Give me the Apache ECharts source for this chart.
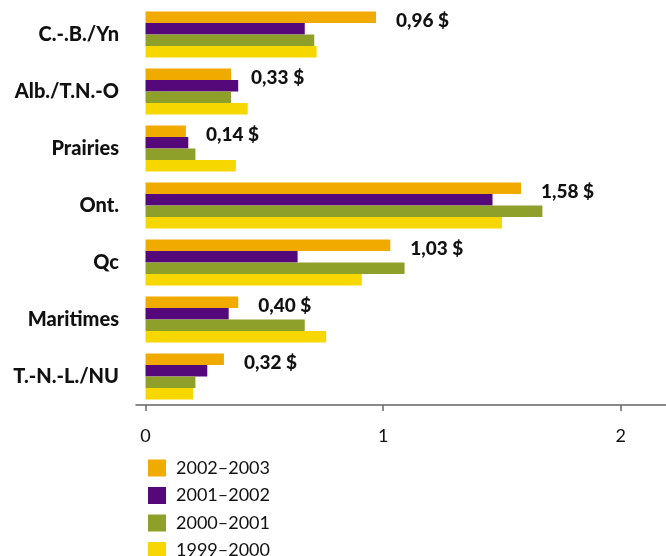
<!DOCTYPE html>
<html lang="fr">
<head>
    <meta charset="UTF-8">
    <title>Barres</title>
    <script src="https://cdn.jsdelivr.net/npm/echarts@6/dist/echarts.min.js"></script>
</head>
<style>
html,body{margin: 0;padding: 0;background: #fff}
#chartBox{width: 666px;height: 556px}
</style>
<body>
    <div id="chartBox"></div>
</body>
<script>
// données
const regions = ['C.-.B./Yn', 'Alb./T.N.-O', 'Prairies', 'Ont.', 'Qc', 'Maritimes', 'T.-N.-L./NU'];
const years = ['2002–2003', '2001–2002', '2000–2001', '1999–2000'];
const v2002 = [0.97, 0.36, 0.17, 1.58, 1.03, 0.39, 0.33];
const v2001 = [0.67, 0.39, 0.18, 1.46, 0.64, 0.35, 0.26];
const v2000 = [0.71, 0.36, 0.21, 1.67, 1.09, 0.67, 0.21];
const v1999 = [0.72, 0.43, 0.38, 1.50, 0.91, 0.76, 0.20];
const valueLabels = ['0,96 $', '0,33 $', '0,14 $', '1,58 $', '1,03 $', '0,40 $', '0,32 $'];
const xTicks = [0, 1, 2];
const colors = ['#F1AA00', '#54087A', '#8FA02A', '#F6D800'];

const font = 'Lato';

function makeSeries(name, data, i) {
    let s = {
        type: 'bar',
        name: name,
        data: data,
        barGap: 0,
        barCategoryGap: '19%',
        itemStyle: {color: colors[i]}
    };
    // seule la série la plus récente porte une étiquette
    if (i === 0) {
        s.label = {
            show: true,
            position: 'right',
            distance: 20,
            offset: [0, 4],
            fontFamily: font,
            fontWeight: 900,
            fontSize: 19,
            color: '#111',
            formatter: p => valueLabels[p.dataIndex]
        };
    }
    return s;
}

let chartObj = echarts.init(document.getElementById('chartBox'));
chartObj.setOption({
    animation: false,
    grid: {left: 136, right: 0, top: 6, bottom: 151, containLabel: false},
    legend: {
        orient: 'vertical',
        left: 148,
        top: 459,
        height: 120,
        padding: 0,
        itemWidth: 18,
        itemHeight: 17,
        itemGap: 9.5,
        icon: 'rect',
        data: years,
        textStyle: {fontFamily: font, fontSize: 18, lineHeight: 17, color: '#111', padding: [0, 0, 0, 5]}
    },
    xAxis: {
        type: 'value',
        min: -0.04,
        max: 2.19,
        splitLine: {show: false},
        axisLine: {show: true, lineStyle: {color: '#666', width: 1.5}},
        axisTick: {show: true, customValues: xTicks, length: 6, lineStyle: {color: '#666', width: 1.5}},
        axisLabel: {customValues: xTicks, margin: 22, fontFamily: font, fontSize: 18, color: '#111'}
    },
    yAxis: {
        type: 'category',
        inverse: true,
        data: regions,
        axisLine: {show: false},
        axisTick: {show: false},
        axisLabel: {margin: 17, fontFamily: font, fontWeight: 900, fontSize: 20, color: '#111'}
    },
    series: [
        makeSeries(years[0], v2002, 0),
        makeSeries(years[1], v2001, 1),
        makeSeries(years[2], v2000, 2),
        makeSeries(years[3], v1999, 3)
    ]
});
</script>
</html>
